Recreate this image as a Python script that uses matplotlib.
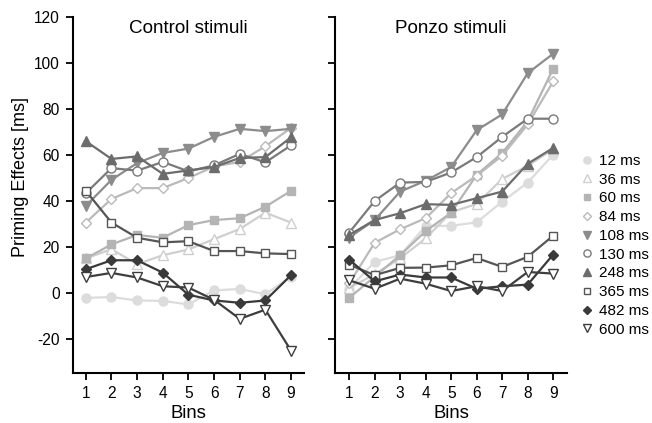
import matplotlib
matplotlib.use("Agg")
from matplotlib import pyplot as plt
from matplotlib.lines import Line2D

plt.rcParams['font.family'] = ['Liberation Sans', 'DejaVu Sans']
plt.rcParams['axes.unicode_minus'] = False

bins = [1, 2, 3, 4, 5, 6, 7, 8, 9]
labels = ['12 ms', '36 ms', '60 ms', '84 ms', '108 ms', '130 ms', '248 ms', '365 ms', '482 ms', '600 ms']

# control stimuli
control_12 = [-2.3, -1.9, -3.4, -3.6, -5.1, 1.0, 1.6, -0.7, 7.0]
control_36 = [14.9, 18.9, 12.4, 16.3, 18.8, 23.3, 27.7, 34.8, 30.5]
control_60 = [14.9, 21.0, 25.1, 23.9, 29.4, 31.6, 32.4, 37.4, 44.3]
control_84 = [30.5, 40.8, 45.5, 45.5, 49.9, 54.9, 56.9, 63.7, 71.7]
control_108 = [37.8, 49.1, 56.4, 60.8, 62.7, 67.8, 71.3, 70.3, 71.3]
control_130 = [43.3, 54.2, 53.1, 56.9, 52.8, 55.4, 60.4, 56.7, 64.1]
control_248 = [65.9, 58.2, 59.3, 51.7, 53.2, 54.7, 58.6, 59.0, 67.6]
control_365 = [44.3, 30.5, 23.9, 21.9, 22.4, 18.1, 18.1, 17.1, 16.8]
control_482 = [10.2, 14.1, 14.1, 8.7, -0.9, -3.4, -4.4, -3.4, 7.6]
control_600 = [6.8, 8.6, 6.6, 2.8, 2.2, -3.1, -11.4, -7.4, -25.2]

# ponzo stimuli
ponzo_12 = [1.7, 13.4, 16.3, 29.0, 29.1, 30.6, 39.6, 47.9, 60.1]
ponzo_36 = [2.0, 8.0, 15.0, 23.6, 35.0, 38.6, 49.5, 55.2, 62.5]
ponzo_60 = [-2.3, 7.0, 16.3, 26.8, 34.8, 51.3, 60.8, 74.6, 97.5]
ponzo_84 = [4.0, 21.7, 27.6, 32.4, 43.3, 50.9, 59.6, 73.2, 91.9]
ponzo_108 = [24.0, 31.6, 44.0, 48.7, 54.7, 70.7, 77.6, 95.5, 104.0]
ponzo_130 = [26.1, 39.9, 47.9, 48.2, 52.3, 59.0, 67.8, 75.7, 75.7]
ponzo_248 = [25.1, 31.6, 34.6, 38.5, 38.2, 41.1, 44.0, 56.1, 63.0]
ponzo_365 = [12.2, 7.6, 10.8, 10.9, 11.9, 15.1, 11.2, 15.6, 24.8]
ponzo_482 = [14.4, 4.9, 7.9, 6.6, 6.6, 1.7, 2.8, 3.5, 16.6]
ponzo_600 = [5.4, 1.7, 6.1, 3.9, 0.7, 2.8, 0.7, 9.0, 8.3]

control = [control_12, control_36, control_60, control_84, control_108,
           control_130, control_248, control_365, control_482, control_600]
ponzo = [ponzo_12, ponzo_36, ponzo_60, ponzo_84, ponzo_108,
         ponzo_130, ponzo_248, ponzo_365, ponzo_482, ponzo_600]

colors = ['#dcdcdc', '#cfcfcf', '#b4b4b4', '#bababa', '#8c8c8c',
          '#7a7a7a', '#6c6c6c', '#555555', '#3a3a3a', '#3e3e3e']
markers = ['o', '^', 's', 'D', 'v', 'o', '^', 's', 'D', 'v']
filled = [True, False, True, False, True, False, True, False, True, False]
msizes = [6.5, 6.5, 6, 5.5, 6.5, 6.5, 6.5, 6, 5.5, 6.5]

fig = plt.figure(figsize=(6.52, 4.23), dpi=100)
ax1 = fig.add_axes([0.112, 0.118, 0.354, 0.842])
ax2 = fig.add_axes([0.514, 0.118, 0.356, 0.842])


def draw(ax, series, title):
    for i, ys in enumerate(series):
        face = colors[i] if filled[i] else 'white'
        ax.plot(bins, ys, color=colors[i], lw=1.6, marker=markers[i],
                ms=msizes[i], mfc=face, mec=colors[i], mew=1.0, zorder=2 + i * 0.1)
    ax.set_ylim(-35, 120)
    ax.set_yticks([-20, 0, 20, 40, 60, 80, 100, 120])
    ax.set_xticks(bins)
    for s in ['top', 'right']:
        ax.spines[s].set_visible(False)
    for s in ['left', 'bottom']:
        ax.spines[s].set_linewidth(1.5)
    ax.tick_params(direction='out', length=5, width=1.3, labelsize=11.2, pad=4.5)
    ax.set_xlabel('Bins', fontsize=13.3, labelpad=3)
    ax.text(0.5, 0.99, title, transform=ax.transAxes, ha='center', va='top', fontsize=13.6)


draw(ax1, control, 'Control stimuli')
ax1.set_xlim(0.5, 9.5)
ax1.set_ylabel('Priming Effects [ms]', fontsize=13)
ax1.yaxis.set_label_coords(-0.19, 0.55)

draw(ax2, ponzo, 'Ponzo stimuli')
ax2.set_xlim(0.45, 9.55)
ax2.set_yticklabels([])

handles = []
for i in range(len(labels)):
    face = colors[i] if filled[i] else 'white'
    handles.append(Line2D([], [], ls='none', marker=markers[i], ms=msizes[i] * 0.8,
                          mfc=face, mec=colors[i], mew=1.0))
fig.legend(handles, labels, loc='upper left', bbox_to_anchor=(0.891, 0.636),
           frameon=False, fontsize=11, handletextpad=0.4, labelspacing=0.31,
           handlelength=0.8, borderpad=0, borderaxespad=0)

fig.savefig('out.png', dpi=100)
